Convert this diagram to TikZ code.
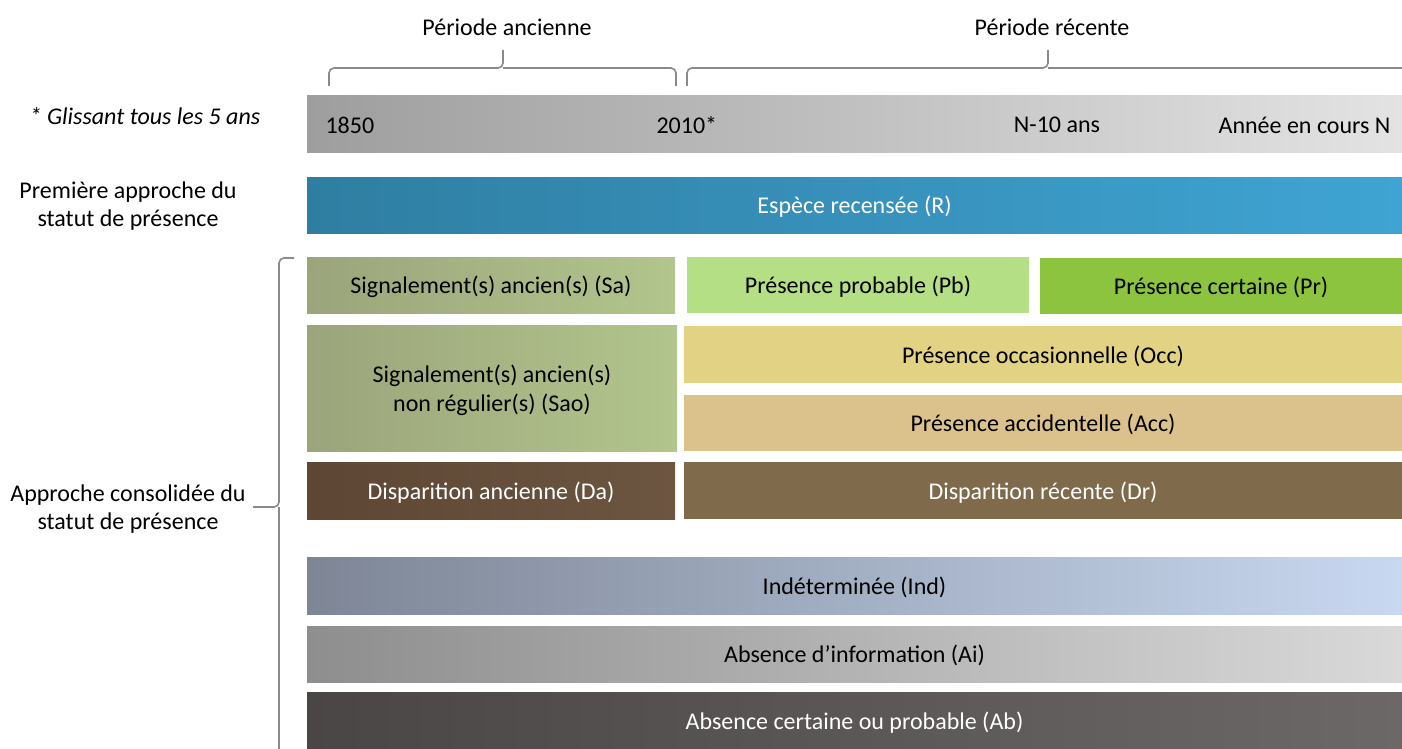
\documentclass[tikz,border=0pt]{standalone}
\usepackage{fontspec}
\setmainfont{Carlito}
\usepackage{tikz}
\usetikzlibrary{positioning,calc}
\definecolor{gristrait}{HTML}{8A8A8A}
\definecolor{bleuA}{HTML}{2F7EA2}   \definecolor{bleuB}{HTML}{3FA4D3}
\definecolor{oliveA}{HTML}{9BA47B}  \definecolor{oliveB}{HTML}{B2C58C}
\definecolor{vertclair}{HTML}{B4DF84}
\definecolor{vert}{HTML}{8CC43F}
\definecolor{jaune}{HTML}{E1D284}
\definecolor{sable}{HTML}{DBC18B}
\definecolor{brunA}{HTML}{5D4734}   \definecolor{brunB}{HTML}{6C5541}
\definecolor{brun}{HTML}{806A4C}
\definecolor{ardoiseA}{HTML}{7E8696} \definecolor{ardoiseB}{HTML}{C8D8F0}
\definecolor{grisA}{HTML}{8E8E8E}   \definecolor{grisB}{HTML}{D9D9D9}
\definecolor{sombreA}{HTML}{4A4645} \definecolor{sombreB}{HTML}{6C6867}
\tikzset{
  bande/.style={inner sep=0pt,text depth=0pt,align=center,font=\fontsize{24}{29}\selectfont},
  clair/.style={bande,text=white},
  acco/.style={draw=gristrait,line width=1.6pt,rounded corners=5pt},
  etiq/.style={align=center,font=\fontsize{24}{28}\selectfont},
}

\begin{document}
\begin{tikzpicture}[x=1pt,y=-1pt]
  \useasboundingbox (0,0) rectangle (1402,749);
  % axe du temps
  \node[bande,minimum width=1095pt,minimum height=56pt,left color=black!38,right color=black!11] (temps) at (854.5,124) {};
  \node[etiq,anchor=west] (an1850) at (322,125) {1850};
  \node[etiq,anchor=west] (an2010) at (653,125) {2010*};
  \node[etiq] (nmoins) at (1057,125) {N-10 ans};
  \node[etiq,anchor=east] (ann) at (1394,125) {Année en cours N};
  \node[etiq] (pa) at (507,27) {Période ancienne};
  \node[etiq] (pr) at (1052,27) {Période récente};
  \node[etiq,font=\fontsize{24}{28}\selectfont\itshape] (gliss) at (145,116) {* Glissant tous les 5 ans};
  \draw[acco] (329,86) |- (503,68) -- (503,50);
  \draw[acco] (503,68) -| (676,86);
  \draw[acco] (687,86) |- (1048,68) -- (1048,50);
  \draw[acco] (1048,68) -- (1410,68);
  % premiere approche
  \node[etiq] (prem) at (128,206) {Première approche du\\statut de présence};
  \node[clair,minimum width=1095pt,minimum height=56pt,left color=bleuA,right color=bleuB] (R) at (854.5,205) {Espèce recensée (R)};
  % approche consolidee
  \node[etiq] (cons) at (128,509) {Approche consolidée du\\statut de présence};
  \draw[acco] (294,258) -| (279,507) -- (253,507);
  \draw[acco] (279,507) -- (279,760);
  \node[bande,minimum width=368pt,minimum height=56pt,left color=oliveA,right color=oliveB] (Sa) at (491,285) {Signalement(s) ancien(s) (Sa)};
  \node[bande,minimum width=342pt,minimum height=56pt,fill=vertclair] (Pb) at (858,285) {Présence probable (Pb)};
  \node[bande,minimum width=362pt,minimum height=56pt,fill=vert] (Prc) at (1221,286) {Présence certaine (Pr)};
  \node[bande,minimum width=370pt,minimum height=126pt,left color=oliveA,right color=oliveB] (Sao) at (492,388) {Signalement(s) ancien(s)\\non régulier(s) (Sao)};
  \node[bande,minimum width=718pt,minimum height=57pt,fill=jaune] (Occ) at (1043,354.5) {Présence occasionnelle (Occ)};
  \node[bande,minimum width=718pt,minimum height=56pt,fill=sable] (Acc) at (1043,423) {Présence accidentelle (Acc)};
  \node[clair,minimum width=368pt,minimum height=57pt,left color=brunA,right color=brunB] (Da) at (491,490.5) {Disparition ancienne (Da)};
  \node[clair,minimum width=718pt,minimum height=57pt,fill=brun] (Dr) at (1043,490.5) {Disparition récente (Dr)};
  \node[bande,minimum width=1095pt,minimum height=57pt,left color=ardoiseA,right color=ardoiseB] (Ind) at (854.5,585.5) {Indéterminée (Ind)};
  \node[bande,minimum width=1095pt,minimum height=56pt,left color=grisA,right color=grisB] (Ai) at (854.5,654) {Absence d’information (Ai)};
  \node[clair,minimum width=1095pt,minimum height=57pt,left color=sombreA,right color=sombreB] (Ab) at (854.5,720.5) {Absence certaine ou probable (Ab)};
\end{tikzpicture}
\end{document}
